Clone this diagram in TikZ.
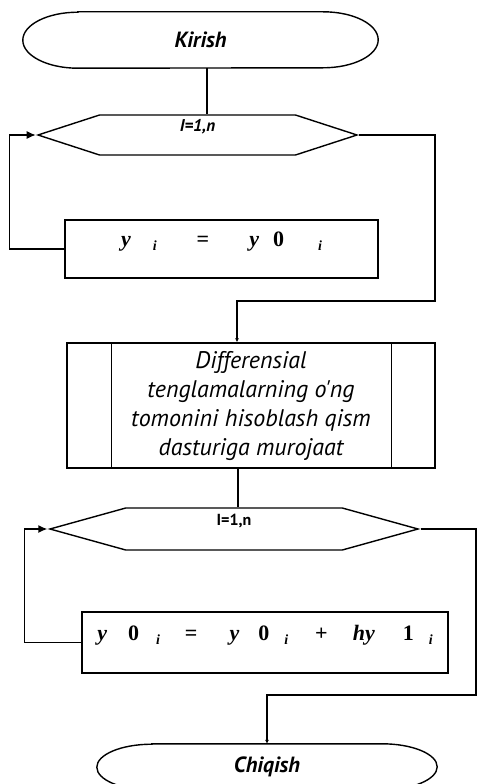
\documentclass[tikz,border=0pt]{standalone}
\usepackage{fontspec}
\setmainfont{Liberation Serif}
\newfontfamily\ptsans{PT Sans}
\usepackage{tikz}
\usetikzlibrary{shapes.symbols,arrows.meta,positioning,calc}
\newcommand{\fy}{\textbf{\itshape y}}
\newcommand{\ix}{\raisebox{-4pt}{\fontsize{14}{14}\selectfont\textbf{\itshape i}}}
\tikzset{
  base/.style={line width=1.4pt},
  terminal/.style={minimum height=#1, inner sep=0pt, font=\ptsans\fontsize{22}{24}\selectfont\bfseries\itshape},
  hexa/.style={draw, base, signal, signal to=west and east, inner sep=0pt, text height=6pt, text depth=13pt},
  procbox/.style={draw, base, rectangle, inner sep=0pt, font=\fontsize{22}{24}\selectfont\bfseries, text height=15pt, text depth=20pt},
  subproc/.style={draw, base, rectangle, inner sep=0pt, align=center, font=\ptsans\fontsize{24}{29}\selectfont\itshape},
  back/.style={base, -{Latex[length=9pt,width=8pt]}},
  down/.style={base, -{Latex[length=4pt,width=4pt]}},
  flow/.style={base}
}
\begin{document}
\begin{tikzpicture}[x=1pt,y=-1pt]
\useasboundingbox (0,0) rectangle (477,784);
% start and end
\node[terminal=56pt, minimum width=355pt] (kir) at (200.5,40) {Kirish};
\node[terminal=46pt, minimum width=340pt] (chq) at (267,767) {Chiqish};
\foreach \t/\ry in {kir/28, chq/23}{
  \draw[base] ([xshift=55pt]\t.north west) -- ([xshift=-55pt]\t.north east)
    arc[start angle=90, end angle=-90, x radius=55pt, y radius=\ry pt]
    -- ([xshift=55pt]\t.south west)
    arc[start angle=270, end angle=90, x radius=55pt, y radius=\ry pt] -- cycle;
}
% loops
\node[hexa, minimum width=319pt, minimum height=40pt, signal pointer angle=36, font=\ptsans\fontsize{17}{18}\selectfont\bfseries\itshape] (h1) at (197.5,135) {I=1,n};
\node[procbox, minimum width=313pt, minimum height=58pt] (b1) at (221.5,249)
  {\fy\hspace{22pt}\ix\hspace{40pt}=\hspace{40pt}\fy\hspace{14pt}0\hspace{34pt}\ix\hspace{9pt}};
\node[subproc, minimum width=368pt, minimum height=125pt] (b2) at (251,405.5)
  {Differensial\\tenglamalarning o'ng\\tomonini hisoblash qism\\dasturiga murojaat};
\draw[base] ([xshift=45pt]b2.north west) -- ([xshift=45pt]b2.south west);
\draw[base] ([xshift=-44pt]b2.north east) -- ([xshift=-44pt]b2.south east);
\node[hexa, minimum width=368pt, minimum height=42pt, signal pointer angle=31, font=\ptsans\fontsize{16}{17}\selectfont\bfseries] (h2) at (234,529) {I=1,n};
\node[procbox, minimum width=366pt, minimum height=61pt] (b3) at (265,642.5)
  {\fy\hspace{21pt}0\hspace{17pt}\ix\hspace{25pt}=\hspace{32pt}\fy\hspace{19pt}0\hspace{15pt}\ix\hspace{27pt}+\hspace{25pt}\textbf{\itshape hy}\hspace{28pt}1\hspace{15pt}\ix\hspace{5pt}};
% connectors
\coordinate (r1) at (435,301);
\coordinate (r2) at (476,695);
\draw[flow] ([xshift=6.5pt]kir.south) -- ([xshift=6.5pt]kir.south |- h1.north);
\draw[back] (b1.west) -- ++(-55,0) |- (h1.west);
\draw[down] (h1.east) -| (r1) -| ([xshift=-14pt]b2.north);
\draw[flow] ([xshift=-13pt]b2.south) -- ([xshift=-13pt]b2.south |- h2.north);
\draw[back] (b3.west) -- ++(-57,0) |- (h2.west);
\draw[down] (h2.east) -| (r2) -| (chq.north);
\end{tikzpicture}
\end{document}
